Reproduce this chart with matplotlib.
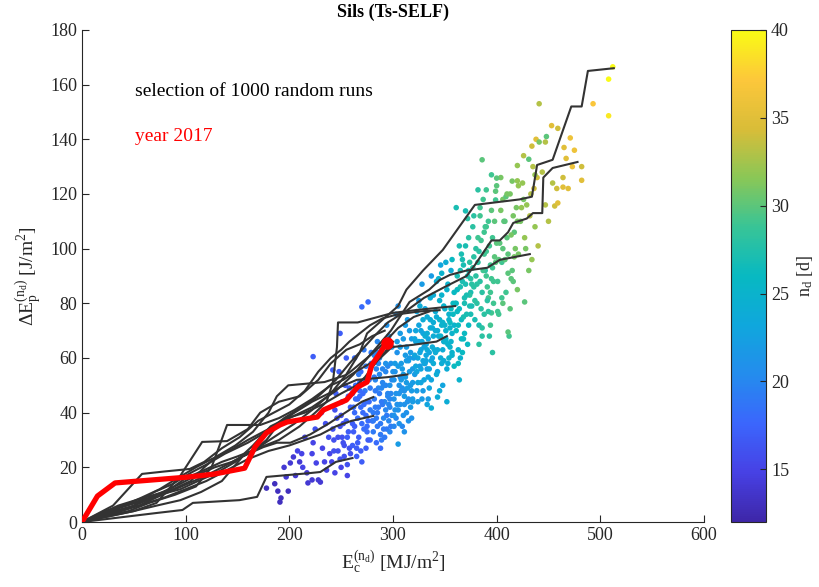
import numpy as np
import matplotlib
matplotlib.use('Agg')
import matplotlib.pyplot as plt
from matplotlib.colors import LinearSegmentedColormap, Normalize
from matplotlib.cm import ScalarMappable

plt.rcParams['font.family'] = ['Liberation Serif', 'DejaVu Serif']
plt.rcParams['mathtext.fontset'] = 'custom'
plt.rcParams['mathtext.rm'] = 'Liberation Serif'
plt.rcParams['mathtext.it'] = 'Liberation Serif:italic'

# scatter of runs: cumulative energy, delta Ep, number of days
ec_runs = [
    178, 189, 191, 192, 197, 199, 186, 195,
    201, 204, 206, 210, 212, 215, 217, 218, 213, 208,
    222, 222, 223, 226, 228, 230, 232, 234, 236, 238, 225, 235, 239, 231, 223,
    241, 243, 244, 246, 247, 249, 250, 251, 252, 253, 255, 256, 257, 258, 259, 245, 248, 254, 242, 251,
    256, 259, 242, 249, 255,
    261, 262, 263, 264, 265, 266, 267, 268, 269, 270, 271, 272, 273, 274, 275, 276, 277, 278, 279, 263,
    266, 269, 272, 275, 278, 261, 268, 274, 270, 276,
    281, 282, 283, 284, 285, 286, 287, 288, 289, 290, 291, 292, 293, 294, 295, 296, 297, 298, 299, 282,
    284, 286, 288, 290, 292, 294, 296, 298, 283, 287, 291, 295, 299, 285, 289, 293, 297,
    301, 302, 303, 304, 305, 306, 307, 308, 309, 310, 311, 312, 313, 314, 315, 316, 317, 318, 319, 302,
    304, 306, 308, 310, 312, 314, 316, 318, 301, 305, 309, 313, 317, 303, 307, 311, 315, 319, 305,
    321, 322, 323, 324, 325, 326, 327, 328, 329, 330, 331, 332, 333, 334, 335, 336, 337, 338, 339, 322,
    324, 326, 328, 330, 332, 334, 336, 338, 323, 327, 331, 335, 339, 325, 329, 333, 337,
    341, 342, 343, 344, 345, 346, 347, 348, 349, 350, 351, 352, 353, 354, 355, 356, 357, 358, 359, 342,
    345, 348, 351, 354, 357, 343, 347, 351, 355, 359, 346, 350, 356,
    361, 362, 363, 364, 365, 366, 367, 368, 369, 370, 371, 372, 373, 374, 375, 376, 377, 378, 379, 363,
    366, 369, 372, 375, 378, 362, 368, 374, 380, 365,
    381, 382, 383, 384, 385, 386, 387, 388, 389, 390, 391, 392, 393, 394, 395, 396, 397, 398, 399, 384,
    388, 392, 396, 383, 390,
    401, 403, 405, 407, 409, 411, 413, 415, 417, 419, 402, 406, 410, 414, 418, 404, 408, 412, 416, 420,
    421, 423, 425, 427, 429, 431, 433, 435, 437, 439, 424, 428, 432, 436, 440, 426, 434, 438,
    441, 453, 459, 448, 441, 447, 434, 471, 465, 475, 431, 467, 482, 420, 386, 395, 400, 400, 464, 482,
    454, 464, 469, 458, 382, 390, 409, 361, 399, 415, 420, 421, 456, 459, 447, 493, 508, 508, 512, 370,
    473, 444, 437, 426, 450,
    427, 411, 386, 364, 343, 337, 352, 333, 394, 406, 395, 401,
]
dep_runs = [
    12.4, 11.3, 7.3, 8.8, 16.5, 11.3, 14, 20,
    21.6, 23.8, 17, 22, 25, 31, 18, 14.3, 20, 26,
    25, 15.4, 29, 21.6, 15.4, 14.6, 27, 22, 19, 31, 34, 36, 25, 40, 60.5,
    22, 30, 18, 38, 26, 35, 20, 44, 29, 24, 37, 17, 33, 27, 42, 47, 55, 50, 34, 31,
    21, 25, 55.6, 69, 60,
    28, 42, 35, 50, 24, 38, 31, 46, 55, 22, 40, 34, 48, 27, 44, 37, 52, 30, 58, 60,
    45, 26, 63, 33, 41, 36, 48, 39, 78.7, 80.5,
    33, 45, 52, 29, 40, 58, 47, 36, 63, 43, 50, 31, 55, 39, 47, 68, 42, 35, 52, 61,
    38, 49, 27, 56, 44, 72, 37, 58, 42, 54, 34, 46, 64, 66, 30, 41, 50,
    45, 55, 38, 62, 28.5, 50, 43, 58, 35, 67, 48, 53, 40, 74, 45, 60, 50, 38, 56, 41,
    66, 47, 52, 39, 61, 44, 70, 48, 35, 57, 49, 64, 42, 76, 53, 46, 59, 51, 79,
    54, 66, 48, 60, 72, 57, 63, 45, 69, 52, 78, 61, 56, 67, 49, 74, 59, 64, 83, 70,
    44, 62, 87, 58, 65, 53, 71, 60, 77, 51, 68, 56, 73, 81, 59, 63, 90,
    62, 75, 55, 68, 81, 60, 72, 50, 66, 78, 70, 85, 58, 74, 64, 92, 69, 80, 72, 88,
    48, 63, 95, 76, 61, 70, 83, 67, 73, 57, 94, 66, 78,
    70, 85, 63, 78, 92, 74, 88, 67, 82, 101, 76, 90, 72, 95, 84, 79, 108, 86, 74, 58,
    98, 80, 65, 89, 112, 77, 94, 83, 100, 60,
    80, 95, 72, 88, 103, 84, 118, 76, 92, 99, 86, 110, 68, 94, 89, 104, 80, 97, 121, 112,
    106, 82, 62, 65, 108,
    88, 102, 95, 110, 84, 98, 120, 92, 106, 115, 76, 118, 104, 89, 100, 126, 96, 68, 112, 85,
    98, 110, 124, 104, 116, 92, 120, 130, 108, 126, 115, 100, 112, 122, 101, 134, 96, 140,
    153, 145, 144, 141, 139, 139, 137.5, 140.5, 137, 136, 132.7, 133, 130, 130.4, 132.5, 127, 125.8, 123, 126, 125,
    124, 122.5, 122, 122, 121.5, 121.5, 119, 115, 117.8, 124.7, 124.8, 123, 115.6, 116.7, 116, 153, 162, 148.6, 166.5, 113.8,
    130, 128, 127, 118, 110,
    80.5, 69.5, 68, 52, 45.7, 41.7, 44, 43, 72, 80, 76.5, 77,
]
nd_runs = [
    13, 13, 13, 13, 14, 13, 13, 14,
    14, 14, 14, 14, 15, 15, 14, 14, 15, 15,
    15, 14, 15, 15, 14, 14, 15, 15, 15, 16, 16, 16, 15, 16, 17,
    15, 16, 15, 16, 16, 16, 15, 17, 16, 16, 17, 15, 17, 16, 17, 17, 17, 17, 16, 16,
    16, 16, 17, 17, 17,
    17, 18, 17, 18, 17, 18, 17, 18, 18, 17, 18, 18, 19, 17, 18, 18, 19, 18, 19, 18,
    18, 17, 19, 18, 19, 17, 18, 18, 18, 18,
    19, 19, 20, 18, 19, 20, 19, 19, 20, 19, 20, 19, 20, 19, 20, 21, 20, 19, 20, 20,
    19, 20, 18, 20, 20, 21, 20, 21, 19, 20, 19, 20, 21, 20, 19, 20, 21,
    21, 21, 20, 21, 22, 21, 21, 22, 20, 22, 21, 22, 21, 22, 21, 22, 22, 21, 22, 21,
    22, 21, 22, 21, 22, 21, 22, 22, 20, 22, 21, 22, 22, 21, 21, 22, 22, 22, 21,
    22, 23, 22, 23, 23, 22, 23, 22, 23, 23, 23, 23, 22, 23, 23, 24, 23, 24, 24, 23,
    22, 23, 22, 23, 23, 23, 24, 23, 23, 23, 24, 23, 24, 22, 23, 24, 22,
    24, 24, 23, 24, 25, 24, 25, 23, 24, 25, 25, 25, 24, 25, 25, 24, 25, 26, 25, 24,
    24, 24, 24, 25, 25, 24, 25, 25, 26, 26, 23, 25, 26,
    26, 26, 25, 26, 27, 26, 27, 26, 27, 27, 27, 27, 26, 28, 27, 27, 28, 28, 27, 26,
    27, 27, 26, 28, 28, 26, 27, 28, 28, 25,
    28, 28, 27, 28, 29, 28, 29, 28, 28, 29, 29, 29, 28, 29, 29, 29, 29, 30, 30, 29,
    29, 29, 28, 28, 29,
    29, 30, 29, 30, 29, 30, 31, 30, 30, 31, 29, 31, 30, 30, 31, 31, 30, 29, 31, 31,
    31, 31, 32, 32, 32, 31, 33, 33, 32, 34, 32, 31, 33, 34, 33, 33, 32, 35,
    33, 35, 34, 30, 31, 33, 34, 36, 35, 36, 30, 35, 34, 32, 30, 29, 30, 30, 34, 35,
    33, 35, 35, 34, 28, 29, 30, 27, 29, 31, 32, 32, 34, 35, 33, 37, 40, 39, 40, 27,
    36, 33, 32, 31, 33,
    30, 30, 28, 25, 24, 24, 24, 23, 29, 30, 29, 29,
]

# more runs in the dense middle of the cloud
ec_more = [
    243, 247, 250, 253, 257, 244, 249, 252, 256, 258,
    262, 264, 266, 268, 270, 272, 274, 276, 278, 280, 263, 267, 271, 275, 279, 265, 269, 273, 277, 261,
    281, 283, 285, 287, 289, 291, 293, 295, 297, 299, 282, 286, 290, 294, 298, 284, 288, 292, 296, 300,
    281, 285, 289, 293, 297,
    301, 303, 305, 307, 309, 311, 313, 315, 317, 319, 302, 306, 310, 314, 318, 304, 308, 312, 316, 320,
    301, 307, 313, 319, 311,
    321, 323, 325, 327, 329, 331, 333, 335, 337, 339, 322, 326, 330, 334, 338, 324, 328, 332, 336, 340,
    321, 327, 333, 339, 329,
    341, 343, 345, 347, 349, 351, 353, 355, 357, 359, 342, 346, 350, 354, 358, 344, 348, 352, 356, 360,
    341, 347, 353, 357, 349,
    361, 363, 365, 367, 369, 371, 373, 375, 377, 379, 362, 366, 370, 374, 378, 364, 368, 372, 376, 380,
    367, 373,
    381, 383, 385, 387, 389, 391, 393, 395, 397, 399, 382, 386, 390, 394, 398, 384, 388, 392, 396, 400,
    402, 405, 408, 411, 414, 417, 420, 404, 410, 416, 406, 413,
]
dep_more = [
    26, 31, 39, 28, 46, 41, 23, 36, 31, 49,
    33, 45, 29, 51, 36, 43, 57, 30, 49, 37, 40, 54, 47, 35, 62, 27, 42, 52, 44, 47,
    40, 48, 35, 60, 44, 38, 50, 57, 45, 39, 53, 42, 51, 34, 47, 56, 32, 66, 43, 55,
    37, 62, 49, 58, 33,
    52, 47, 41, 64, 56, 43, 51, 37, 62, 45, 58, 36, 54, 49, 67, 43, 48, 72, 55, 60,
    39, 69, 59, 44, 33,
    61, 55, 66, 70, 48, 58, 75, 62, 52, 68, 57, 79, 64, 45, 71, 51, 66, 59, 82, 63,
    67, 56, 69, 58, 74,
    70, 63, 74, 58, 79, 66, 87, 71, 62, 84, 54, 68, 72, 60, 76, 89, 73, 56, 66, 80,
    77, 91, 65, 96, 59,
    80, 72, 86, 96, 69, 83, 104, 76, 93, 81, 90, 67, 87, 79, 97, 101, 75, 111, 87, 90,
    62, 92,
    87, 99, 78, 92, 108, 81, 101, 114, 88, 95, 104, 71, 90, 84, 110, 115, 98, 77, 93, 102,
    96, 82, 110, 91, 105, 97, 110, 114, 120, 88, 100, 78,
]
nd_more = [
    16, 16, 16, 16, 17, 16, 16, 16, 17, 17,
    17, 18, 17, 18, 18, 18, 19, 17, 19, 18, 18, 19, 18, 18, 19, 17, 18, 19, 18, 18,
    19, 19, 19, 20, 19, 20, 20, 20, 20, 20, 19, 19, 20, 19, 20, 20, 19, 21, 20, 21,
    19, 20, 20, 21, 20,
    21, 21, 21, 22, 22, 21, 22, 21, 22, 22, 22, 21, 22, 22, 22, 21, 21, 22, 22, 22,
    21, 22, 22, 22, 21,
    23, 23, 23, 23, 22, 23, 24, 23, 23, 24, 23, 24, 23, 22, 24, 23, 23, 23, 24, 24,
    23, 23, 24, 24, 24,
    24, 24, 25, 24, 25, 25, 25, 25, 25, 26, 24, 25, 25, 25, 26, 25, 25, 24, 25, 26,
    24, 25, 25, 26, 24,
    26, 26, 27, 27, 26, 27, 28, 27, 28, 28, 27, 26, 27, 27, 28, 27, 27, 28, 28, 28,
    26, 27,
    28, 28, 28, 29, 29, 28, 29, 30, 29, 30, 29, 28, 29, 29, 30, 29, 29, 28, 29, 30,
    30, 29, 30, 30, 31, 31, 31, 31, 31, 30, 30, 30,
]

# selected random runs (cumulative, day by day)
sel_ec = [
    [0, 12, 28, 45, 60, 78, 95, 110, 128, 145, 165, 185, 205, 222, 240, 255, 268, 275, 290, 305, 313, 329,
     348, 379, 422, 434, 439, 454, 472, 482, 488, 513],
    [0, 18, 35, 52, 70, 88, 105, 120, 138, 160, 178, 195, 212, 228, 245, 258, 270, 282, 295, 312, 330, 350,
     371, 379, 395, 403, 411, 416, 429, 435, 444, 445, 454, 478],
    [0, 20, 40, 58, 75, 92, 110, 125, 142, 160, 180, 200, 222, 245, 262, 280, 298, 316, 335, 345, 355, 371,
     391, 403, 432],
    [0, 15, 32, 50, 70, 85, 100, 118, 135, 150, 170, 190, 210, 225, 236, 242, 246, 247, 266, 300, 324, 360],
    [0, 22, 40, 58, 75, 95, 112, 130, 148, 165, 182, 198, 215, 232, 250, 265, 273, 285, 299, 319, 342, 352],
    [0, 20, 38, 55, 72, 90, 108, 125, 145, 165, 178, 190, 205, 222, 238, 249, 265, 295, 314],
    [0, 18, 35, 52, 70, 88, 105, 118, 130, 148, 165, 180, 188, 199, 234, 255, 261, 275, 290, 305, 320, 335],
    [0, 25, 50, 72, 95, 115, 135, 155, 175, 188, 201, 220, 238, 250, 262, 270, 281],
    [0, 30, 55, 80, 100, 120, 140, 160, 180, 200, 215, 230, 245, 260, 281],
    [0, 72, 97, 107, 152, 169, 178, 220, 230, 245, 261],
    [0, 15, 30, 58, 80, 104, 118, 135, 152, 170, 185, 200, 215, 228, 240, 250, 258, 268, 278, 290, 305,
     325, 345],
    [0, 25, 50, 72, 95, 116, 140, 160, 172, 190, 210, 228, 240, 255, 268, 280, 292],
    [0, 20, 45, 65, 90, 110, 125, 140, 172, 190, 205, 222, 240, 252, 264, 278, 292, 300],
]
sel_dep = [
    [0, 1.5, 3, 5, 8, 11, 14, 17, 20, 22, 26, 31, 36, 41, 47, 54, 62, 69, 74, 79, 85, 92,
     99.5, 116, 118, 119, 130.6, 132.5, 152, 152, 165, 166],
    [0, 2, 5, 7, 11, 14, 18, 21, 25, 29, 33, 38, 42, 46, 52, 58, 63, 68, 73, 77, 82, 86,
     90, 94, 103, 103, 106, 109.4, 111, 113, 113, 126, 129.5, 131.7],
    [0, 3, 6, 9, 12, 16, 20, 23, 26, 30, 34, 38, 42, 48, 54, 62, 70, 80.5, 85, 88.5, 90.4, 92,
     93, 95.9, 98],
    [0, 2, 4, 6, 9, 12, 16, 19, 22, 24, 27, 30, 35, 40, 44, 51, 64, 73, 73, 76.5, 77.6, 79],
    [0, 4, 6, 8, 10, 12, 15, 18, 22, 28, 35, 38, 40, 43, 47, 50, 53, 59, 64, 64.8, 66, 68],
    [0, 2, 4, 6, 9, 12, 15, 18, 22, 26, 30, 36, 40, 44, 47, 49.4, 52, 53, 54],
    [0, 3, 6, 8, 10, 12, 15, 20, 24, 28, 33, 40, 46, 50, 51.2, 53.8, 55.6, 60, 65, 71, 75, 77],
    [0, 2, 4, 6, 8, 11, 15, 24, 27.4, 29, 29, 32, 36, 39, 42, 44, 45.7],
    [0, 4, 6, 9, 12, 15, 19, 23, 26, 28, 30, 32, 35, 37, 38.8],
    [0, 3.3, 4.4, 7, 8, 9.2, 16.5, 17.9, 18.3, 22, 23.4],
    [0, 3, 6, 17.6, 18.5, 19.4, 22, 27, 31, 37, 40, 43, 48, 55, 60, 63, 66, 69, 72, 74.5, 76,
     77, 77.5],
    [0, 2, 4, 7, 17, 29.3, 29.6, 34, 40, 44, 46, 52, 58, 63, 65, 68, 70],
    [0, 2, 4, 7, 10, 13, 20, 35.5, 35.5, 38, 41, 45, 50, 52, 55, 58, 62, 66],
]

# year 2017
ec_2017 = [0, 15, 32, 101, 127, 157, 167, 178, 191, 198, 227, 233, 255, 266, 275, 279.5, 286, 294]
dep_2017 = [0, 9.5, 14.3, 16.4, 17.5, 19.7, 27.5, 32.6, 35.5, 36.6, 38.4, 41, 44.6, 49.4, 51.2, 57.4, 61, 65.5]

nd_min, nd_max = 12, 40

# approximate parula
parula = LinearSegmentedColormap.from_list('parula', [
    (0.00, (0.2422, 0.1504, 0.6603)),
    (0.10, (0.2780, 0.2556, 0.8969)),
    (0.20, (0.2300, 0.4000, 0.9900)),
    (0.30, (0.1400, 0.5500, 0.9300)),
    (0.40, (0.0600, 0.6550, 0.8650)),
    (0.50, (0.0300, 0.7250, 0.7600)),
    (0.60, (0.2200, 0.7700, 0.5900)),
    (0.70, (0.5400, 0.7800, 0.3400)),
    (0.80, (0.8500, 0.7400, 0.2200)),
    (0.90, (0.9900, 0.7800, 0.2300)),
    (1.00, (0.9769, 0.9839, 0.0805)),
])

gray = (0.15, 0.15, 0.15)

fig = plt.figure(figsize=(8.19, 5.87), dpi=100)
ax = fig.add_axes([0.100, 0.1107, 0.7596, 0.8383])
cax = fig.add_axes([0.8925, 0.1107, 0.043, 0.8383])

norm = Normalize(vmin=nd_min, vmax=nd_max)
all_ec = ec_runs + ec_more
all_dep = dep_runs + dep_more
all_nd = nd_runs + nd_more
ax.scatter(all_ec, all_dep, c=all_nd, cmap=parula, norm=norm, s=16, linewidths=0, zorder=2)

for xs, ys in zip(sel_ec, sel_dep):
    ax.plot(xs, ys, color=(0.2, 0.2, 0.2), lw=1.5, zorder=3)

ax.plot(ec_2017, dep_2017, color='red', lw=3.8, zorder=4, solid_joinstyle='round')
ax.plot(ec_2017[-1], dep_2017[-1], 'o', color='red', ms=8, zorder=5)

ax.text(51, 157.3, 'selection of 1000 random runs', fontsize=14, va='center', ha='left', color='black')
ax.text(51, 140.9, 'year 2017', fontsize=14, va='center', ha='left', color='red')

ax.set_xlim(0, 600)
ax.set_ylim(0, 180)
ax.set_xticks(np.arange(0, 601, 100))
ax.set_yticks(np.arange(0, 181, 20))
for side in ['top', 'right']:
    ax.spines[side].set_visible(False)
for side in ['left', 'bottom']:
    ax.spines[side].set_color(gray)
ax.tick_params(direction='in', length=5, labelsize=13, colors=gray)
ax.set_xlabel(r'$\mathrm{E_c^{(n_d)}\ [MJ/m^2]}$', fontsize=14, color=gray)
ax.set_ylabel(r'$\Delta\mathrm{E_p^{(n_d)}\ [J/m^2]}$', fontsize=14, color=gray)
ax.set_title('Sils (Ts-SELF)', fontsize=13, fontweight='bold', pad=9)

cb = fig.colorbar(ScalarMappable(norm=norm, cmap=parula), cax=cax)
cb.set_ticks([15, 20, 25, 30, 35, 40])
cb.ax.tick_params(direction='in', length=4, labelsize=13, colors=gray)
cb.outline.set_edgecolor(gray)
cb.set_label(r'$\mathrm{n_d}$ [d]', fontsize=13, color=gray)

fig.savefig('out.png', dpi=100)
